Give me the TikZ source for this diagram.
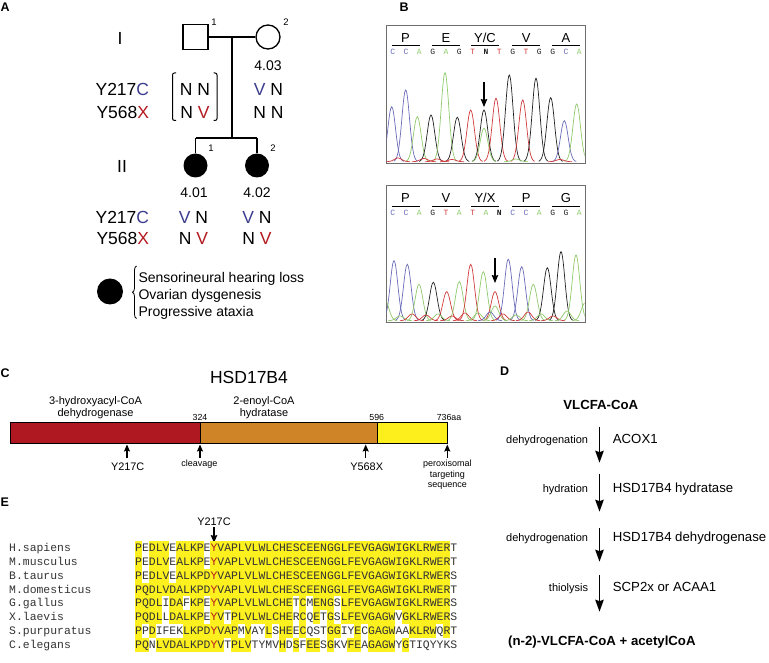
\documentclass[tikz,border=0pt]{standalone}
\usepackage{fontspec}
\setmainfont{Liberation Sans}
\newfontfamily\monofont{Liberation Mono}
\usetikzlibrary{arrows.meta,decorations.pathreplacing}
\definecolor{gblue}{HTML}{3C3C8E}
\definecolor{gred}{HTML}{B3191F}
\definecolor{barred}{HTML}{AF1820}
\definecolor{barorange}{HTML}{CE8427}
\definecolor{baryellow}{HTML}{FDEF1B}
\definecolor{hlyellow}{HTML}{FCF01E}
\definecolor{chblue}{HTML}{6A6AB8}
\definecolor{chgreen}{HTML}{8FC96B}
\definecolor{chred}{HTML}{D03A3A}
\definecolor{chblack}{HTML}{202020}
\definecolor{seqtext}{HTML}{333333}
\definecolor{boxgray}{HTML}{6E6E6E}
\newcommand{\fsz}[1]{\fontsize{#1}{#1}\selectfont}
\newcommand{\ry}{\textcolor{gred}{Y}}
\begin{document}
\begin{tikzpicture}[x=1pt,y=-1pt,
  panel/.style={font=\bfseries\fsz{12.5},anchor=base west,inner sep=0},
  pedline/.style={line width=1.3pt},
  bigtxt/.style={font=\fsz{17.5},anchor=base,inner sep=0},
  pednum/.style={font=\fsz{9.5},anchor=base,inner sep=0},
  idtxt/.style={font=\fsz{14},anchor=base,inner sep=0},
  legtxt/.style={font=\fsz{14},anchor=base west,inner sep=0},
  codon/.style={font=\monofont\fsz{8},inner sep=0},
  aalbl/.style={font=\fsz{13},anchor=base,inner sep=0},
  domlbl/.style={font=\fsz{11},anchor=base,inner sep=0},
  numlbl/.style={font=\fsz{8.8},anchor=base,inner sep=0},
  mutlbl/.style={font=\fsz{10.9},anchor=base,inner sep=0},
  smalllbl/.style={font=\fsz{9},anchor=base,inner sep=0},
  stepname/.style={font=\fsz{11},anchor=base east,inner sep=0},
  enzyme/.style={font=\fsz{13.2},anchor=base west,inner sep=0},
  metab/.style={font=\bfseries\fsz{13.2},anchor=base,inner sep=0},
  seq/.style={font=\monofont\fsz{11.42},anchor=base west,inner sep=0,text=seqtext},
  upar/.style={-{Stealth[length=7pt,width=6pt,inset=1pt]},line width=1.1pt},
  downar/.style={-{Stealth[length=12pt,width=8.5pt,inset=1.5pt]},line width=1.6pt},
  smallar/.style={-{Stealth[length=8pt,width=6.5pt,inset=1pt]},line width=1.1pt}
]
\useasboundingbox (0,0) rectangle (769,663);

% ================= Panel A =================
\node[panel] (labA) at (0.5,12) {A};
\node[bigtxt] (genI) at (120,45) {I};
\node[bigtxt] (genII) at (122,172.5) {II};

\node[draw,pedline,minimum size=25pt,inner sep=0] (p1) at (195.5,37) {};
\node[draw,pedline,circle,minimum size=24pt,inner sep=0] (p2) at (268,37) {};
\node[pednum] (p1n) at (214,26) {1};
\node[pednum] (p2n) at (286,26) {2};
\coordinate (mate) at (232,37);
\coordinate (sib) at (232,138);
\draw[pedline] (p1.east) -- (p2.west);
\draw[pedline] (mate) -- (sib);

\node[circle,fill=black,minimum size=24pt,inner sep=0] (c1) at (195.5,165.5) {};
\node[circle,fill=black,minimum size=24pt,inner sep=0] (c2) at (257,165.5) {};
\node[pednum] (c1n) at (211,151.7) {1};
\node[pednum] (c2n) at (273,151.7) {2};
\coordinate (s1) at (195.5,138);
\coordinate (s2) at (257,138);
\draw[pedline] (s1) -- (s2);
\draw[pedline] (s1) -- (c1.north);
\draw[pedline] (s2) -- (c2.north);

\node[idtxt] (id403) at (268,70.5) {4.03};
\node[idtxt] (id401) at (194,197.7) {4.01};
\node[idtxt] (id402) at (257,197.7) {4.02};

% genotypes generation I
\node[bigtxt,anchor=base east] (mutA1) at (149.3,96) {Y217\textcolor{gblue}{C}};
\node[bigtxt,anchor=base east] (mutA2) at (149.3,118.3) {Y568\textcolor{gred}{X}};
\node[bigtxt] (g11) at (195,96) {N N};
\node[bigtxt] (g12) at (195,118.3) {N \textcolor{gred}{V}};
\draw[line width=1pt,rounded corners=2pt] (176,73) -- (172.5,73) -- (172.5,120.5) -- (176,120.5);
\draw[line width=1pt,rounded corners=2pt] (213.5,73) -- (217,73) -- (217,120.5) -- (213.5,120.5);
\node[bigtxt] (g21) at (268.5,96) {\textcolor{gblue}{V} N};
\node[bigtxt] (g22) at (268.5,118.3) {N N};

% genotypes generation II
\node[bigtxt,anchor=base east] (mutB1) at (149.3,223.3) {Y217\textcolor{gblue}{C}};
\node[bigtxt,anchor=base east] (mutB2) at (149.3,245) {Y568\textcolor{gred}{X}};
\node[bigtxt] (g31) at (193.5,223.3) {\textcolor{gblue}{V} N};
\node[bigtxt] (g32) at (193.5,245) {N \textcolor{gred}{V}};
\node[bigtxt] (g41) at (257,223.3) {\textcolor{gblue}{V} N};
\node[bigtxt] (g42) at (257,245) {N \textcolor{gred}{V}};

% legend
\node[circle,fill=black,minimum size=26pt,inner sep=0] (leg) at (110,291.5) {};
\draw[decorate,decoration={brace,amplitude=4pt},line width=0.8pt] (136.5,318.5) -- (136.5,266);
\node[legtxt] (leg1) at (138.3,282.3) {Sensorineural hearing loss};
\node[legtxt] (leg2) at (138.3,299.5) {Ovarian dysgenesis};
\node[legtxt] (leg3) at (138.3,316.7) {Progressive ataxia};

% ================= Panel B =================
\node[panel] (labB) at (399.5,12) {B};
% top chromatogram
\draw[boxgray,line width=0.9pt] (386,25) rectangle (585,163);
\foreach \aa/\xc [count=\i] in {P/405.5,E/446,Y\slash C/485,V/526.3,A/566}{
  \node[aalbl] (aat\i) at (\xc,42.5) {\aa};
  \draw[line width=0.8pt] ({\xc-14},45.7) -- ({\xc+14},45.7);
}
\foreach \l/\c [count=\i from 0] in {C/chblue,C/chblue,A/chgreen,G/chblack,A/chgreen,G/chblack,T/chred,\textbf{N}/chblack,T/chred,G/chblack,T/chred,G/chblack,G/chblack,C/chblue,A/chgreen}{
  \node[codon,text=\c] (ct\i) at ({392.7+\i*13.33},52.3) {\l};
}
\begin{scope}
\clip (386.5,25.5) rectangle (584.5,162.5);
\foreach \cx/\ty/\c in {391.7/106.7/chblue,405.7/90/chblue,417.3/116.7/chgreen,431/115/chblack,445/72.7/chgreen,457.3/117.3/chblack,470.7/110/chred,484/110/chblack,484/128.3/chgreen,496/98.3/chred,509.3/75/chblack,522.7/100/chred,536/78.3/chblack,550.7/97.7/chblack,564.3/120.7/chblue,576.7/104/chgreen,
  398/158/chred,424/158.5/chred,437/159/chred,452/159.5/chred,516/159/chgreen,560/159.5/chred}{
  \draw[\c,line width=0.7pt] plot[domain=-12:12,samples=25,smooth] ({\cx+\x},{161.7-(161.7-\ty)*exp(-(\x*\x)/28.9)});
}
\end{scope}
\coordinate (arT1) at (484,82);
\coordinate (arT2) at (484,107);
\draw[smallar] (arT1) -- (arT2);

% bottom chromatogram
\draw[boxgray,line width=0.9pt] (386,185) rectangle (585,322);
\foreach \aa/\xc [count=\i] in {P/405.5,V/446,Y\slash X/485,P/526.3,G/566}{
  \node[aalbl] (aab\i) at (\xc,203) {\aa};
  \draw[line width=0.8pt] ({\xc-14},206) -- ({\xc+14},206);
}
\foreach \l/\c [count=\i from 0] in {C/chblue,C/chblue,A/chgreen,G/chblack,T/chred,A/chgreen,T/chred,A/chgreen,\textbf{N}/chblack,C/chblue,C/chblue,A/chgreen,G/chblack,G/chblack,A/chgreen}{
  \node[codon,text=\c] (cb\i) at ({392.7+\i*13.33},212.7) {\l};
}
\begin{scope}
\clip (386.5,185.5) rectangle (584.5,321.5);
\foreach \cx/\ty/\c in {394/260.7/chblue,407.3/264.3/chblue,419/284.3/chgreen,433.3/282.3/chblack,446.7/291.7/chred,459.3/281.7/chgreen,470.7/264.3/chred,483.3/271.7/chgreen,495/291.7/chred,495/306/chgreen,508.3/259.3/chblue,521.7/266.7/chblue,533.3/284.3/chgreen,547.3/267.7/chblack,561/251.7/chblack,576/255/chgreen,
  385/300/chgreen,400/316/chgreen,412/314/chred,426/315/chred,438/314/chgreen,452/316/chred,465/313/chred,478/313/chgreen,490/312/chblue,503/314/chred,516/315/chgreen,528/312/chred,541/314/chgreen,553/316/chred,567/311/chgreen,585/303/chgreen}{
  \draw[\c,line width=0.7pt] plot[domain=-12:12,samples=25,smooth] ({\cx+\x},{320.7-(320.7-\ty)*exp(-(\x*\x)/28.9)});
}
\end{scope}
\coordinate (arB1) at (495,258);
\coordinate (arB2) at (495,283);
\draw[smallar] (arB1) -- (arB2);

% ================= Panel C =================
\node[panel] (labC) at (0.5,377) {C};
\node[font=\fsz{17.5},anchor=base,inner sep=0] (hsd) at (249,383.3) {HSD17B4};
\node[draw,line width=0.9pt,fill=barred,minimum width=190pt,minimum height=21pt,anchor=north west,inner sep=0] (dom1) at (10,422) {};
\node[draw,line width=0.9pt,fill=barorange,minimum width=176.7pt,minimum height=21pt,anchor=north west,inner sep=0] (dom2) at (200,422) {};
\node[draw,line width=0.9pt,fill=baryellow,minimum width=70.6pt,minimum height=21pt,anchor=north west,inner sep=0] (dom3) at (376.7,422) {};
\node[domlbl] (d1a) at (95.5,404.7) {3-hydroxyacyl-CoA};
\node[domlbl] (d1b) at (95.5,416.5) {dehydrogenase};
\node[domlbl] (d2a) at (264,404.7) {2-enoyl-CoA};
\node[domlbl] (d2b) at (264,416.5) {hydratase};
\node[numlbl] (n324) at (200,420.5) {324};
\node[numlbl] (n596) at (376.7,420.5) {596};
\node[numlbl] (n736) at (449,420.5) {736aa};

\coordinate (m1t) at (127,444.5); \coordinate (m1b) at (127,458);
\coordinate (m2t) at (200,444.5); \coordinate (m2b) at (200,458);
\coordinate (m3t) at (365.7,444.5); \coordinate (m3b) at (365.7,458);
\coordinate (m4t) at (447.3,444.5); \coordinate (m4b) at (447.3,458);
\draw[upar] (m1b) -- (m1t);
\draw[upar] (m2b) -- (m2t);
\draw[upar] (m3b) -- (m3t);
\draw[upar] (m4b) -- (m4t);
\node[mutlbl] (y217) at (127.7,470) {Y217C};
\node[smalllbl] (clv) at (199.3,466) {cleavage};
\node[mutlbl] (y568) at (366.7,470) {Y568X};
\node[smalllbl] (pts1) at (447.3,466.7) {peroxisomal};
\node[smalllbl] (pts2) at (447.3,477) {targeting};
\node[smalllbl] (pts3) at (447.3,487.3) {sequence};

% ================= Panel D =================
\node[panel] (labD) at (500,375) {D};
\node[metab] (vlcfa) at (600.8,409.3) {VLCFA-CoA};
\coordinate (r1a) at (599.5,426.7); \coordinate (r1b) at (599.5,462.7);
\coordinate (r2a) at (599.5,474);   \coordinate (r2b) at (599.5,511.7);
\coordinate (r3a) at (599.5,528.3); \coordinate (r3b) at (599.5,561.7);
\coordinate (r4a) at (599.5,575);   \coordinate (r4b) at (599.5,611.7);
\draw[downar] (r1a) -- (r1b);
\draw[downar] (r2a) -- (r2b);
\draw[downar] (r3a) -- (r3b);
\draw[downar] (r4a) -- (r4b);
\node[stepname] (st1) at (588.3,443) {dehydrogenation};
\node[enzyme] (en1) at (612.7,443.3) {ACOX1};
\node[stepname] (st2) at (588.3,492) {hydration};
\node[enzyme] (en2) at (612.7,492.5) {HSD17B4 hydratase};
\node[stepname] (st3) at (588.3,541) {dehydrogenation};
\node[enzyme] (en3) at (612.7,541) {HSD17B4 dehydrogenase};
\node[stepname] (st4) at (588.3,591) {thiolysis};
\node[enzyme] (en4) at (612.7,591) {SCP2x or ACAA1};
\node[metab,anchor=base west] (prod) at (508,645) {(n-2)-VLCFA-CoA + acetylCoA};

% ================= Panel E =================
\node[panel] (labE) at (0.5,506.7) {E};
\node[mutlbl] (y217e) at (214,525) {Y217C};
\coordinate (eA) at (214,527);
\coordinate (eB) at (214,543);
\draw[smallar] (eA) -- (eB);

\fill[hlyellow] (135,541.05) rectangle (450.1,651.55);
\foreach \r/\cols in {1/{2,6,11},2/{2,6,11},3/{2,6},5/{5,8,11,24,26,30},6/{5,11,14,24,26,28,30,39},7/{2,4,5,6,7,16,18,19,21,24,26,27,28,31,32,34,39,40,45},8/{3,14,18,19,20,21,23,25,28,30,31,34,39,41,42,43,44,45,46}}{
  \foreach \c in \cols {
    \fill[white] ({135+(\c-1)*6.85},{548+(\r-1)*13.8-6.95}) rectangle ({135+\c*6.85},{548+(\r-1)*13.8+6.95});
  }
}
\node[seq] (sp1) at (9,551.7) {H.sapiens};
\node[seq] (sp2) at (9,565.5) {M.musculus};
\node[seq] (sp3) at (9,579.3) {B.taurus};
\node[seq] (sp4) at (9,593.1) {M.domesticus};
\node[seq] (sp5) at (9,606.9) {G.gallus};
\node[seq] (sp6) at (9,620.7) {X.laevis};
\node[seq] (sp7) at (9,634.5) {S.purpuratus};
\node[seq] (sp8) at (9,648.3) {C.elegans};
\node[seq] (sq1) at (135,551.7) {PEDLVEALKPE\ry VAPLVLWLCHESCEENGGLFEVGAGWIGKLRWERT};
\node[seq] (sq2) at (135,565.5) {PEDLVEALKPE\ry VAPLVLWLCHESCEENGGLFEVGAGWIGKLRWERT};
\node[seq] (sq3) at (135,579.3) {PEDLVEALKPD\ry VAPLVLWLCHESCEENGGLFEVGAGWIGKLRWERS};
\node[seq] (sq4) at (135,593.1) {PQDLVDALKPD\ry VAPLVLWLCHESCEENGGLFEVGAGWIGKLRWERT};
\node[seq] (sq5) at (135,606.9) {PQDLIDAFKPE\ry VAPLVLWLCHETCMENGSLFEVGAGWIGKLRWERS};
\node[seq] (sq6) at (135,620.7) {PQDLLDALKPE\ry VTPLVLWLCHERCQETGSLFEVGAGWVGKLRWERS};
\node[seq] (sq7) at (135,634.5) {PPDIFEKLKPD\ry VAPMVAYLSHEECQSTGGIYECGAGWAAKLRWQRT};
\node[seq] (sq8) at (135,648.3) {PQNLVDALKPD\ry VTPLVTYMVHDSFEESGKVFEAGAGWYGTIQYYKS};
\end{tikzpicture}
\end{document}
